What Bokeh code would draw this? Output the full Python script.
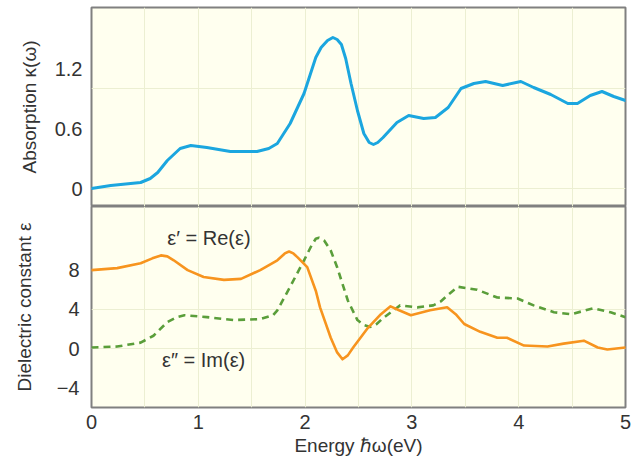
from bokeh.plotting import figure
from bokeh.layouts import column
from bokeh.models import FixedTicker, ColumnDataSource
from bokeh.core.properties import value
from bokeh.embed import file_html
from bokeh.resources import INLINE

# Absorption kappa(omega)
e_kappa = [0.0, 0.18, 0.46, 0.55, 0.62, 0.71, 0.83, 0.93, 1.08, 1.30, 1.55, 1.66, 1.74, 1.86,
           1.99, 2.10, 2.15, 2.21, 2.26, 2.30, 2.34, 2.38, 2.43, 2.49, 2.55, 2.60, 2.64, 2.68,
           2.73, 2.86, 2.97, 3.11, 3.22, 3.34, 3.46, 3.58, 3.69, 3.85, 4.02, 4.14, 4.30,
           4.46, 4.55, 4.67, 4.78, 4.89, 5.0]
kappa = [0.0, 0.03, 0.06, 0.10, 0.16, 0.28, 0.40, 0.43, 0.41, 0.37, 0.37, 0.40, 0.45, 0.65,
         0.95, 1.31, 1.41, 1.48, 1.51, 1.49, 1.44, 1.30, 1.05, 0.78, 0.55, 0.46, 0.44, 0.46,
         0.51, 0.66, 0.73, 0.70, 0.71, 0.81, 1.00, 1.05, 1.07, 1.03, 1.07, 1.01, 0.94,
         0.85, 0.85, 0.93, 0.97, 0.92, 0.88]

# Real part eps'
e_re = [0.0, 0.24, 0.46, 0.57, 0.65, 0.71, 0.77, 0.90, 1.05, 1.24, 1.40, 1.58, 1.74, 1.81,
        1.85, 1.89, 1.93, 2.02, 2.10, 2.14, 2.24, 2.30, 2.35, 2.40, 2.45, 2.58, 2.71, 2.80,
        2.88, 2.99, 3.17, 3.33, 3.41, 3.49, 3.64, 3.80, 3.89, 4.05, 4.27, 4.42, 4.61,
        4.74, 4.83, 5.0]
eps_re = [8.0, 8.2, 8.7, 9.2, 9.5, 9.4, 9.0, 8.0, 7.3, 7.0, 7.1, 8.0, 9.0, 9.7,
          9.9, 9.7, 9.3, 8.3, 5.9, 4.2, 1.1, -0.4, -1.1, -0.7, 0.1, 2.0, 3.5, 4.3,
          3.9, 3.4, 3.9, 4.2, 3.5, 2.5, 1.7, 1.1, 1.1, 0.3, 0.2, 0.5, 0.8,
          0.1, -0.1, 0.1]

# Imaginary part eps''
e_im = [0.0, 0.24, 0.46, 0.58, 0.71, 0.80, 0.87, 1.08, 1.33, 1.58, 1.70, 1.74, 1.86, 1.99,
        2.06, 2.10, 2.13, 2.18, 2.24, 2.30, 2.40, 2.49, 2.55, 2.61, 2.67, 2.73, 2.89, 3.05,
        3.20, 3.27, 3.33, 3.43, 3.61, 3.80, 3.99, 4.14, 4.33, 4.49, 4.70, 4.86, 5.0]
eps_im = [0.1, 0.2, 0.6, 1.3, 2.7, 3.2, 3.4, 3.2, 2.9, 3.0, 3.4, 3.9, 6.3, 9.0,
          10.5, 11.2, 11.3, 11.0, 10.0, 8.3, 4.9, 2.9, 2.4, 2.2, 2.5, 3.1, 4.4, 4.2,
          4.4, 4.8, 5.4, 6.3, 6.0, 5.2, 5.1, 4.4, 3.7, 3.5, 4.1, 3.7, 3.2]

x_ticks = [0, 1, 2, 3, 4, 5]
kappa_ticks = [0, 0.6, 1.2]
kappa_tick_labels = ["0", "0.6", "1.2"]
eps_ticks = [-4, 0, 4, 8]
eps_tick_labels = ["\u22124", "0", "4", "8"]

label_x = [1.10, 1.05]
label_y = [11.3, -1.2]
label_text = ["\u03b5\u2032 = Re(\u03b5)", "\u03b5\u2033 = Im(\u03b5)"]

FONT = "Liberation Sans"
BG = "#FFFFEF"
GRID = "#ECEFD2"
FRAME = "#808080"
TXT = "#333333"
xgrid_ticks = [0.5, 1.0, 1.5, 2.0, 2.5, 3.0, 3.5, 4.0, 4.5]


def style(p):
    p.background_fill_color = BG
    p.border_fill_color = "white"
    p.outline_line_color = FRAME
    p.outline_line_width = 2
    p.xgrid.ticker = FixedTicker(ticks=xgrid_ticks)
    for g in (p.xgrid, p.ygrid):
        g.grid_line_color = GRID
        g.grid_line_width = 1
    for ax in p.axis:
        ax.axis_line_color = None
        ax.major_tick_line_color = None
        ax.minor_tick_line_color = None
        ax.major_tick_out = 0
        ax.major_tick_in = 0
        ax.major_label_text_font = FONT
        ax.major_label_text_font_size = "20px"
        ax.major_label_text_color = TXT
        ax.axis_label_text_font = FONT
        ax.axis_label_text_font_size = "19px"
        ax.axis_label_text_font_style = "normal"
        ax.axis_label_text_color = TXT


p1 = figure(width=644, height=206, x_range=(0, 5), y_range=(-0.18, 1.81),
            output_backend="svg", toolbar_location=None, x_axis_location=None,
            min_border_left=91, min_border_right=19, min_border_top=7, min_border_bottom=0)
style(p1)
p1.ygrid.ticker = FixedTicker(ticks=[0, 1.0])
p1.yaxis.ticker = FixedTicker(ticks=kappa_ticks)
p1.yaxis.major_label_overrides = dict(zip(kappa_ticks, kappa_tick_labels))
p1.yaxis.axis_label = "Absorption \u03ba(\u03c9)"
p1.yaxis.major_label_standoff = 9
p1.yaxis.axis_label_standoff = 12
p1.line(e_kappa, kappa, line_color="#1BA6DF", line_width=3,
        line_join="round", line_cap="round")

p2 = figure(width=644, height=261, x_range=(0, 5), y_range=(-6.02, 14.49),
            output_backend="svg", toolbar_location=None,
            min_border_left=91, min_border_right=19, min_border_top=0, min_border_bottom=60)
style(p2)
p2.ygrid.ticker = FixedTicker(ticks=[0, 4])
p2.yaxis.ticker = FixedTicker(ticks=eps_ticks)
p2.yaxis.major_label_overrides = dict(zip(eps_ticks, eps_tick_labels))
p2.yaxis.axis_label = "Dielectric constant \u03b5"
p2.yaxis.major_label_standoff = 12
p2.yaxis.axis_label_standoff = 19
p2.xaxis.ticker = FixedTicker(ticks=x_ticks)
p2.xaxis.axis_label = "Energy \u210f\u03c9(eV)"
p2.xaxis.major_label_standoff = 7
p2.xaxis.axis_label_standoff = 3

p2.line(e_im, eps_im, line_color="#5A9E3A", line_width=2.6, line_dash="7 5",
        line_join="round")
p2.line(e_re, eps_re, line_color="#F7941E", line_width=2.6,
        line_join="round", line_cap="round")

src = ColumnDataSource(dict(x=label_x, y=label_y, t=label_text))
p2.text(x="x", y="y", text="t", source=src, text_font=value(FONT),
        text_font_size="20px", text_color=TXT, text_align="center",
        text_baseline="middle")

layout = column(p1, p2, spacing=0)
open("out.html", "w").write(file_html(layout, INLINE))
